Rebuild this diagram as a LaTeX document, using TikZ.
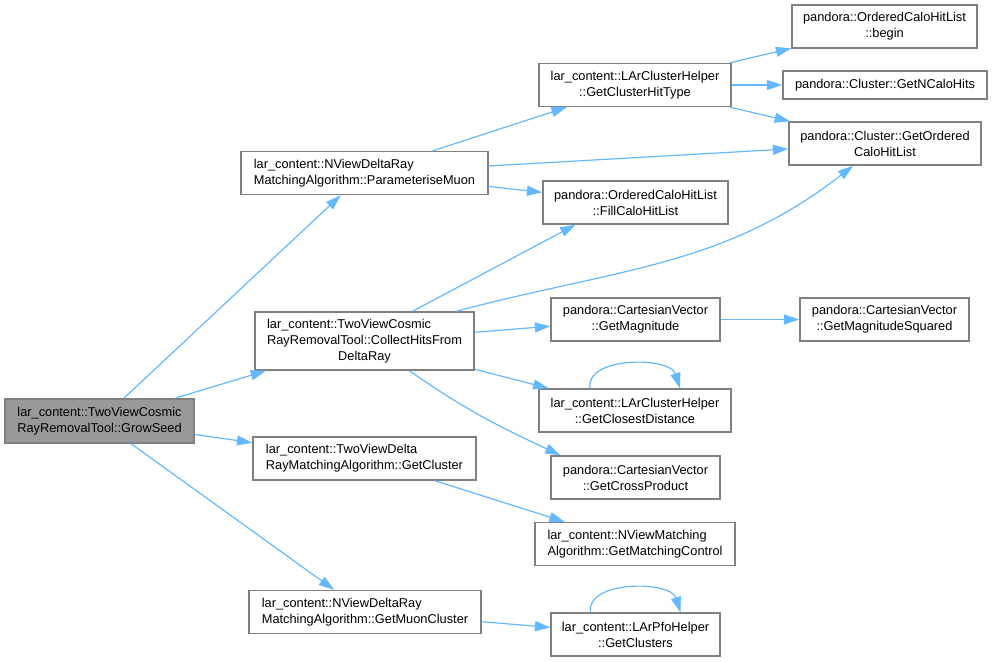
\documentclass[tikz,border=0pt]{standalone}
\usepackage{fontspec}
\setmainfont{Liberation Sans}
\usetikzlibrary{positioning}
\usetikzlibrary{arrows.meta}
\usetikzlibrary{calc}

\definecolor{edgeblue}{RGB}{99,184,255}
\definecolor{boxline}{RGB}{128,128,128}
\definecolor{rootfill}{RGB}{153,153,153}

\begin{document}
\begin{tikzpicture}[x=0.75pt, y=-0.75pt]
\pgfmathsetmacro{\PX}{0.75}


\tikzset{
  fn/.style 2 args={draw=boxline, line width=1.1pt, fill=white, rectangle, inner sep=0pt,
  font=\fontsize{9.6}{12}\selectfont,
  minimum width=#1*\PX pt, minimum height=#2*\PX pt},
  calls/.style={draw=edgeblue, line width=0.9pt, -{Triangle[length=11.5pt,width=7.5pt]}},
}

\useasboundingbox (0,0) rectangle (992,661);

\node[fn={189}{44}, fill=rootfill, align=center] (grow) at (99.5,421) {lar\_content::TwoViewCosmic\\RayRemovalTool::GrowSeed};

\node[fn={247}{43}, align=left] (param) at (364.5,173) {lar\_content::NViewDeltaRay\\MatchingAlgorithm::ParameteriseMuon};
\node[fn={219}{58}] (collect) at (364.5,341) {\begin{tabular}{@{}l@{}}lar\_content::TwoViewCosmic\\RayRemovalTool::CollectHitsFrom\\\multicolumn{1}{@{}c@{}}{DeltaRay}\end{tabular}};
\node[fn={223}{43}, align=left] (getcl) at (364.5,458.5) {lar\_content::TwoViewDelta\\RayMatchingAlgorithm::GetCluster};
\node[fn={232}{43}, align=left] (muoncl) at (365,612) {lar\_content::NViewDeltaRay\\MatchingAlgorithm::GetMuonCluster};

\node[fn={192}{43}, align=center] (hittype) at (635,85) {lar\_content::LArClusterHelper\\::GetClusterHitType};
\node[fn={185}{43}, align=center] (fill) at (635.5,202.5) {pandora::OrderedCaloHitList\\::FillCaloHitList};
\node[fn={169}{43}, align=center] (mag) at (635.5,319.5) {pandora::CartesianVector\\::GetMagnitude};
\node[fn={192}{43}, align=center] (closest) at (635,410.5) {lar\_content::LArClusterHelper\\::GetClosestDistance};
\node[fn={169}{43}, align=center] (cross) at (635.5,477.5) {pandora::CartesianVector\\::GetCrossProduct};
\node[fn={200}{43}, align=left] (matchctl) at (635,544) {lar\_content::NViewMatching\\Algorithm::GetMatchingControl};
\node[fn={169}{43}, align=center] (clusters) at (635.5,634.5) {lar\_content::LArPfoHelper\\::GetClusters};

\node[fn={185}{43}, align=center] (begin) at (884.5,26.5) {pandora::OrderedCaloHitList\\::begin};
\node[fn={204}{28}, align=center] (ncalo) at (885,85) {pandora::Cluster::GetNCaloHits};
\node[fn={192}{43}, align=center] (ordered) at (885,143.5) {pandora::Cluster::GetOrdered\\CaloHitList};
\node[fn={169}{43}, align=center] (magsq) at (884.5,319.5) {pandora::CartesianVector\\::GetMagnitudeSquared};

% calls from the root
\draw[calls] (grow) -- (param);
\draw[calls] (grow) -- (collect);
\draw[calls] (grow) -- (getcl);
\draw[calls] (grow) -- (muoncl);

\draw[calls] (param) -- (hittype);
\draw[calls] (param) -- (ordered);
\draw[calls] (param) -- (fill);

\draw[calls] ([xshift=48*\PX pt]collect.north) -- ([xshift=-60*\PX pt]fill.south);
\draw[calls] ([xshift=92*\PX pt]collect.north) to [out=15, in=218] ([xshift=-32*\PX pt]ordered.south);
\draw[calls] (collect) -- (mag);
\draw[calls] (collect) -- (closest);
\draw[calls] ([xshift=45*\PX pt]collect.south) to [out=-35, in=155] ([xshift=-75*\PX pt]cross.north);

\draw[calls] (hittype) -- (begin);
\draw[calls] (hittype) -- (ncalo);
\draw[calls] (hittype) -- (ordered);

\draw[calls] (mag) -- (magsq);
\draw[calls] (getcl) -- (matchctl);
\draw[calls] (muoncl) -- (clusters);

% recursive calls
\draw[calls] ([xshift=-45*\PX pt]closest.north) .. controls +(-5,-32) and +(-10,-32) .. ([xshift=45*\PX pt]closest.north);
\draw[calls] ([xshift=-45*\PX pt]clusters.north) .. controls +(-5,-32) and +(-10,-32) .. ([xshift=45*\PX pt]clusters.north);
\end{tikzpicture}
\end{document}
